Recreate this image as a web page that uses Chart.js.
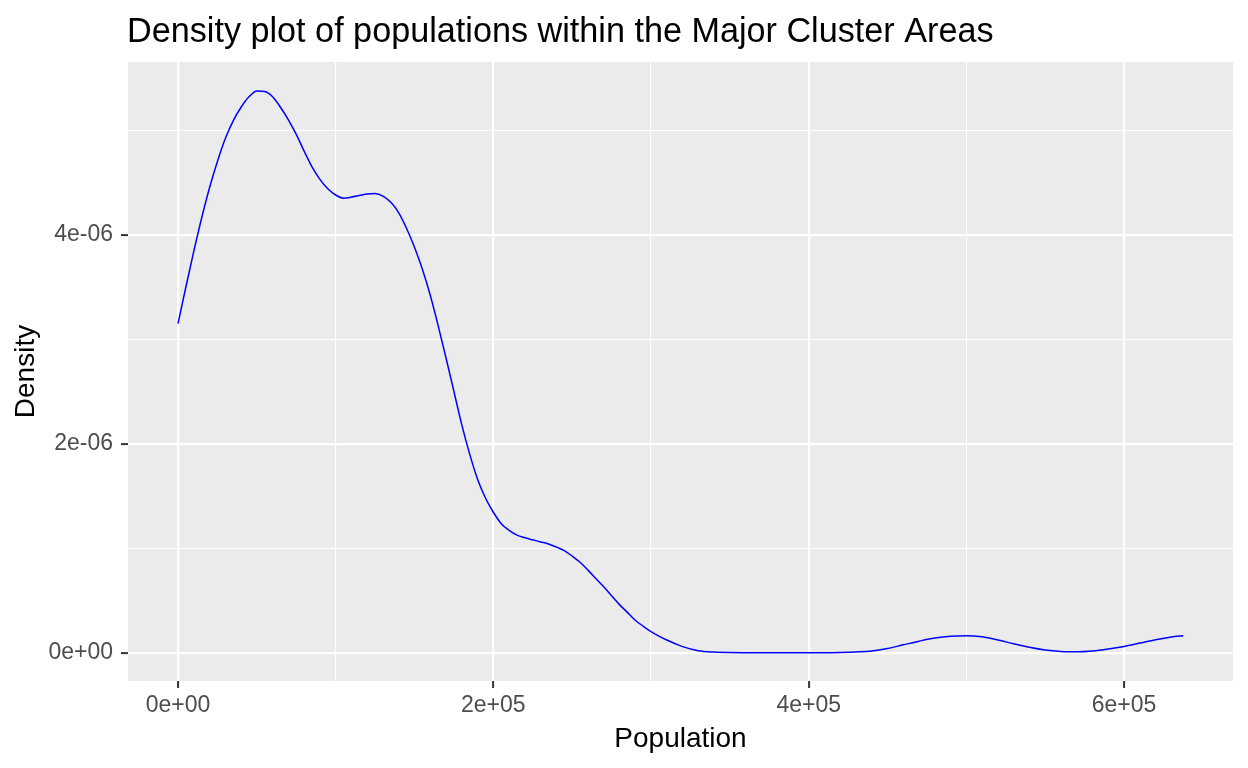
<!DOCTYPE html>
<html>
<head>
<meta charset="utf-8">
<script src="https://cdn.jsdelivr.net/npm/chart.js@4"></script>
<style>
  html, body { margin: 0; padding: 0; background: #ffffff; }
  #wrap { width: 1248px; height: 768px; }
</style>
</head>
<body>
<div id="wrap"><canvas id="c" width="1248" height="768"></canvas></div>
<script>
// ---- data ----
const chartTitle = 'Density plot of populations within the Major Cluster Areas';
const xTitle = 'Population';
const yTitle = 'Density';

const population = [
  0, 5000, 10000, 15000, 20000, 25000, 30000, 35000, 40000, 45000,
  50000, 55000, 60000, 65000, 70000, 75000, 80000, 85000, 90000, 95000,
  100000, 105000, 110000, 115000, 120000, 125000, 130000, 135000, 140000, 145000,
  150000, 155000, 160000, 165000, 170000, 175000, 180000, 185000, 190000, 195000,
  200000, 205000, 210000, 215000, 220000, 225000, 230000, 235000, 240000, 245000,
  250000, 255000, 260000, 265000, 270000, 275000, 280000, 285000, 290000, 295000,
  300000, 305000, 310000, 315000, 320000, 330000, 340000, 350000, 360000, 370000,
  380000, 390000, 400000, 410000, 420000, 430000, 440000, 450000, 460000, 470000,
  480000, 490000, 500000, 510000, 520000, 530000, 540000, 550000, 560000, 570000,
  580000, 590000, 600000, 610000, 620000, 630000, 637600
];
const density = [
  3.15e-6, 3.50e-6, 3.84e-6, 4.16e-6, 4.45e-6, 4.70e-6, 4.92e-6, 5.09e-6, 5.22e-6, 5.32e-6,
  5.375e-6, 5.37e-6, 5.32e-6, 5.22e-6, 5.10e-6, 4.96e-6, 4.80e-6, 4.65e-6, 4.53e-6, 4.44e-6,
  4.38e-6, 4.35e-6, 4.36e-6, 4.375e-6, 4.39e-6, 4.395e-6, 4.37e-6, 4.31e-6, 4.21e-6, 4.06e-6,
  3.88e-6, 3.67e-6, 3.42e-6, 3.13e-6, 2.82e-6, 2.50e-6, 2.18e-6, 1.90e-6, 1.66e-6, 1.48e-6,
  1.344e-6, 1.235e-6, 1.171e-6, 1.125e-6, 1.10e-6, 1.08e-6, 1.06e-6, 1.04e-6, 1.01e-6, 0.977e-6,
  0.925e-6, 0.865e-6, 0.79e-6, 0.71e-6, 0.63e-6, 0.545e-6, 0.46e-6, 0.386e-6, 0.31e-6, 0.254e-6,
  0.202e-6, 0.159e-6, 0.121e-6, 0.088e-6, 0.058e-6, 0.019e-6, 0.006e-6, 0.0015e-6, 0.0003e-6, 0.0001e-6,
  0, 0, 0.0001e-6, 0.0004e-6, 0.002e-6, 0.007e-6, 0.016e-6, 0.040e-6, 0.075e-6, 0.110e-6,
  0.140e-6, 0.158e-6, 0.163e-6, 0.152e-6, 0.122e-6, 0.085e-6, 0.051e-6, 0.025e-6, 0.011e-6, 0.008e-6,
  0.016e-6, 0.035e-6, 0.060e-6, 0.092e-6, 0.124e-6, 0.150e-6, 0.163e-6
];

const xTickValues = [0, 100000, 200000, 300000, 400000, 500000, 600000];
const xTickLabels = ['0e+00', '', '2e+05', '', '4e+05', '', '6e+05'];
const yTickValues = [0, 1e-6, 2e-6, 3e-6, 4e-6, 5e-6];
const yTickLabels = ['0e+00', '', '2e-06', '', '4e-06', ''];

const xMin = -31712, xMax = 669120;
const yMin = -0.271e-6, yMax = 5.653e-6;

// ---- plugins ----
const panelBg = {
  id: 'panelBg',
  beforeDraw(chart) {
    const { ctx, chartArea: a } = chart;
    ctx.save();
    ctx.fillStyle = '#ffffff';
    ctx.fillRect(0, 0, chart.width, chart.height);
    ctx.fillStyle = '#EBEBEB';
    ctx.fillRect(a.left, a.top, a.right - a.left, a.bottom - a.top);
    ctx.restore();
  }
};
const plotTitle = {
  id: 'plotTitle',
  afterDraw(chart) {
    const ctx = chart.ctx;
    ctx.save();
    ctx.fillStyle = '#000000';
    ctx.font = '34.2px "Liberation Sans", Arial, sans-serif';
    ctx.textBaseline = 'alphabetic';
    ctx.textAlign = 'left';
    ctx.fillText(chartTitle, 127, 42);
    ctx.restore();
  }
};

const isMajor = (c) => c.index % 2 === 0;
const tickFont = { family: '"Liberation Sans", Arial, sans-serif', size: 23 };

new Chart(document.getElementById('c'), {
  type: 'line',
  data: {
    datasets: [{
      data: population.map((p, i) => ({ x: p, y: density[i] })),
      borderColor: '#0000FF',
      borderWidth: 1.5,
      pointRadius: 0,
      fill: false,
      cubicInterpolationMode: 'monotone'
    }]
  },
  options: {
    responsive: false,
    animation: false,
    devicePixelRatio: 1,
    layout: { padding: { top: 62, right: 15, left: 0, bottom: 0 } },
    plugins: {
      legend: { display: false },
      tooltip: { enabled: false },
      title: { display: false }
    },
    scales: {
      x: {
        type: 'linear',
        min: xMin, max: xMax,
        afterBuildTicks(s) { s.ticks = xTickValues.map(v => ({ value: v })); },
        afterFit(s) { s.height = 87; },
        ticks: {
          autoSkip: false, maxRotation: 0,
          padding: 4,
          color: '#4D4D4D',
          font: tickFont,
          callback: (v, i) => xTickLabels[i]
        },
        grid: {
          color: '#ffffff',
          lineWidth: c => isMajor(c) ? 2.2 : 1.1,
          tickColor: c => isMajor(c) ? '#333333' : 'rgba(0,0,0,0)',
          tickWidth: 2,
          tickLength: 7
        },
        border: { display: false },
        title: {
          display: true, text: xTitle, color: '#000000',
          font: { family: '"Liberation Sans", Arial, sans-serif', size: 28, lineHeight: 1 },
          padding: { top: 0, bottom: 15 }
        }
      },
      y: {
        type: 'linear',
        min: yMin, max: yMax,
        afterBuildTicks(s) { s.ticks = yTickValues.map(v => ({ value: v })); },
        afterFit(s) { s.width = 128; },
        ticks: {
          autoSkip: false,
          padding: 8,
          color: '#4D4D4D',
          font: tickFont,
          callback: (v, i) => yTickLabels[i]
        },
        grid: {
          color: '#ffffff',
          lineWidth: c => isMajor(c) ? 2.2 : 1.1,
          tickColor: c => isMajor(c) ? '#333333' : 'rgba(0,0,0,0)',
          tickWidth: 2,
          tickLength: 7
        },
        border: { display: false },
        title: {
          display: true, text: yTitle, color: '#000000',
          font: { family: '"Liberation Sans", Arial, sans-serif', size: 28, lineHeight: 1 },
          padding: { top: 12, bottom: 0 }
        }
      }
    }
  },
  plugins: [panelBg, plotTitle]
});
</script>
</body>
</html>
